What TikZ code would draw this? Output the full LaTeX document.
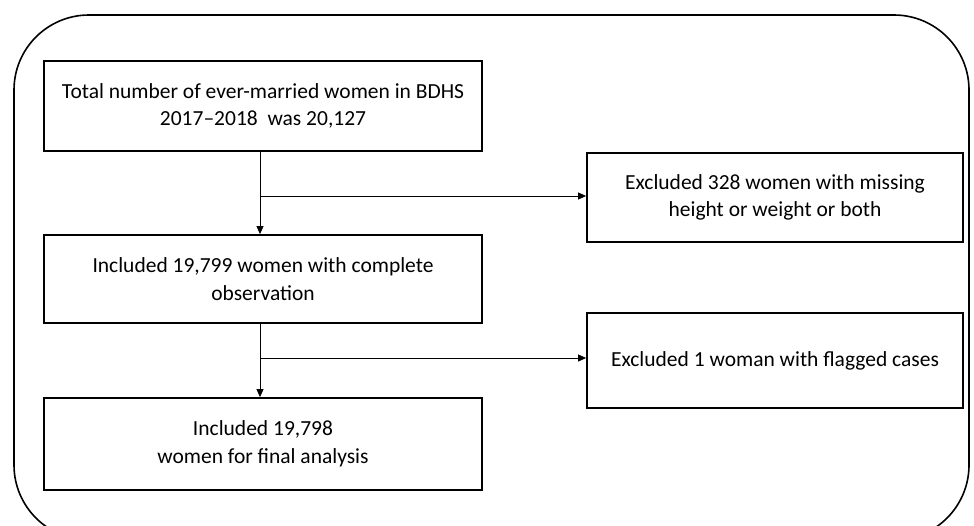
\documentclass[tikz,border=0pt]{standalone}
\usepackage{fontspec}
\setmainfont{Carlito}
\usetikzlibrary{arrows.meta}
\begin{document}
\begin{tikzpicture}[x=1pt,y=-1pt,
  box/.style={draw,line width=1.8pt,align=center,inner sep=0pt,font=\fontsize{21.5}{27.5}\selectfont},
  conn/.style={line width=0.8pt,-{Triangle[length=8pt,width=7pt]}},
  line/.style={line width=0.8pt}]
\useasboundingbox (0,0) rectangle (974,525);
\draw[line width=1.6pt,rounded corners=75pt] (14,15) rectangle (969,540);
\node[box,minimum width=438pt,minimum height=90pt] (b1) at (263,106) {Total number of ever-married women in BDHS\\2017--2018\ \ was 20,127};
\node[box,minimum width=438pt,minimum height=88pt] (b2) at (263,279) {Included 19,799 women with complete\\observation};
\node[box,minimum width=438pt,minimum height=92pt] (b4) at (263,444) {Included 19,798\\women for final analysis};
\node[box,minimum width=376pt,minimum height=89pt] (b3) at (775,197.5) {Excluded 328 women with missing\\height or weight or both};
\node[box,minimum width=376pt,minimum height=95pt] (b5) at (775,360.5) {Excluded 1 woman with flagged cases};
\coordinate (j1) at (260,196);
\coordinate (j2) at (260,358);
\draw[line] (b1.south -| j1) -- (j1);
\draw[conn] (j1) -- (b2.north -| j1);
\draw[conn] (j1) -- (b3.west |- j1);
\draw[line] (b2.south -| j2) -- (j2);
\draw[conn] (j2) -- (b4.north -| j2);
\draw[conn] (j2) -- (b5.west |- j2);
\end{tikzpicture}
\end{document}
